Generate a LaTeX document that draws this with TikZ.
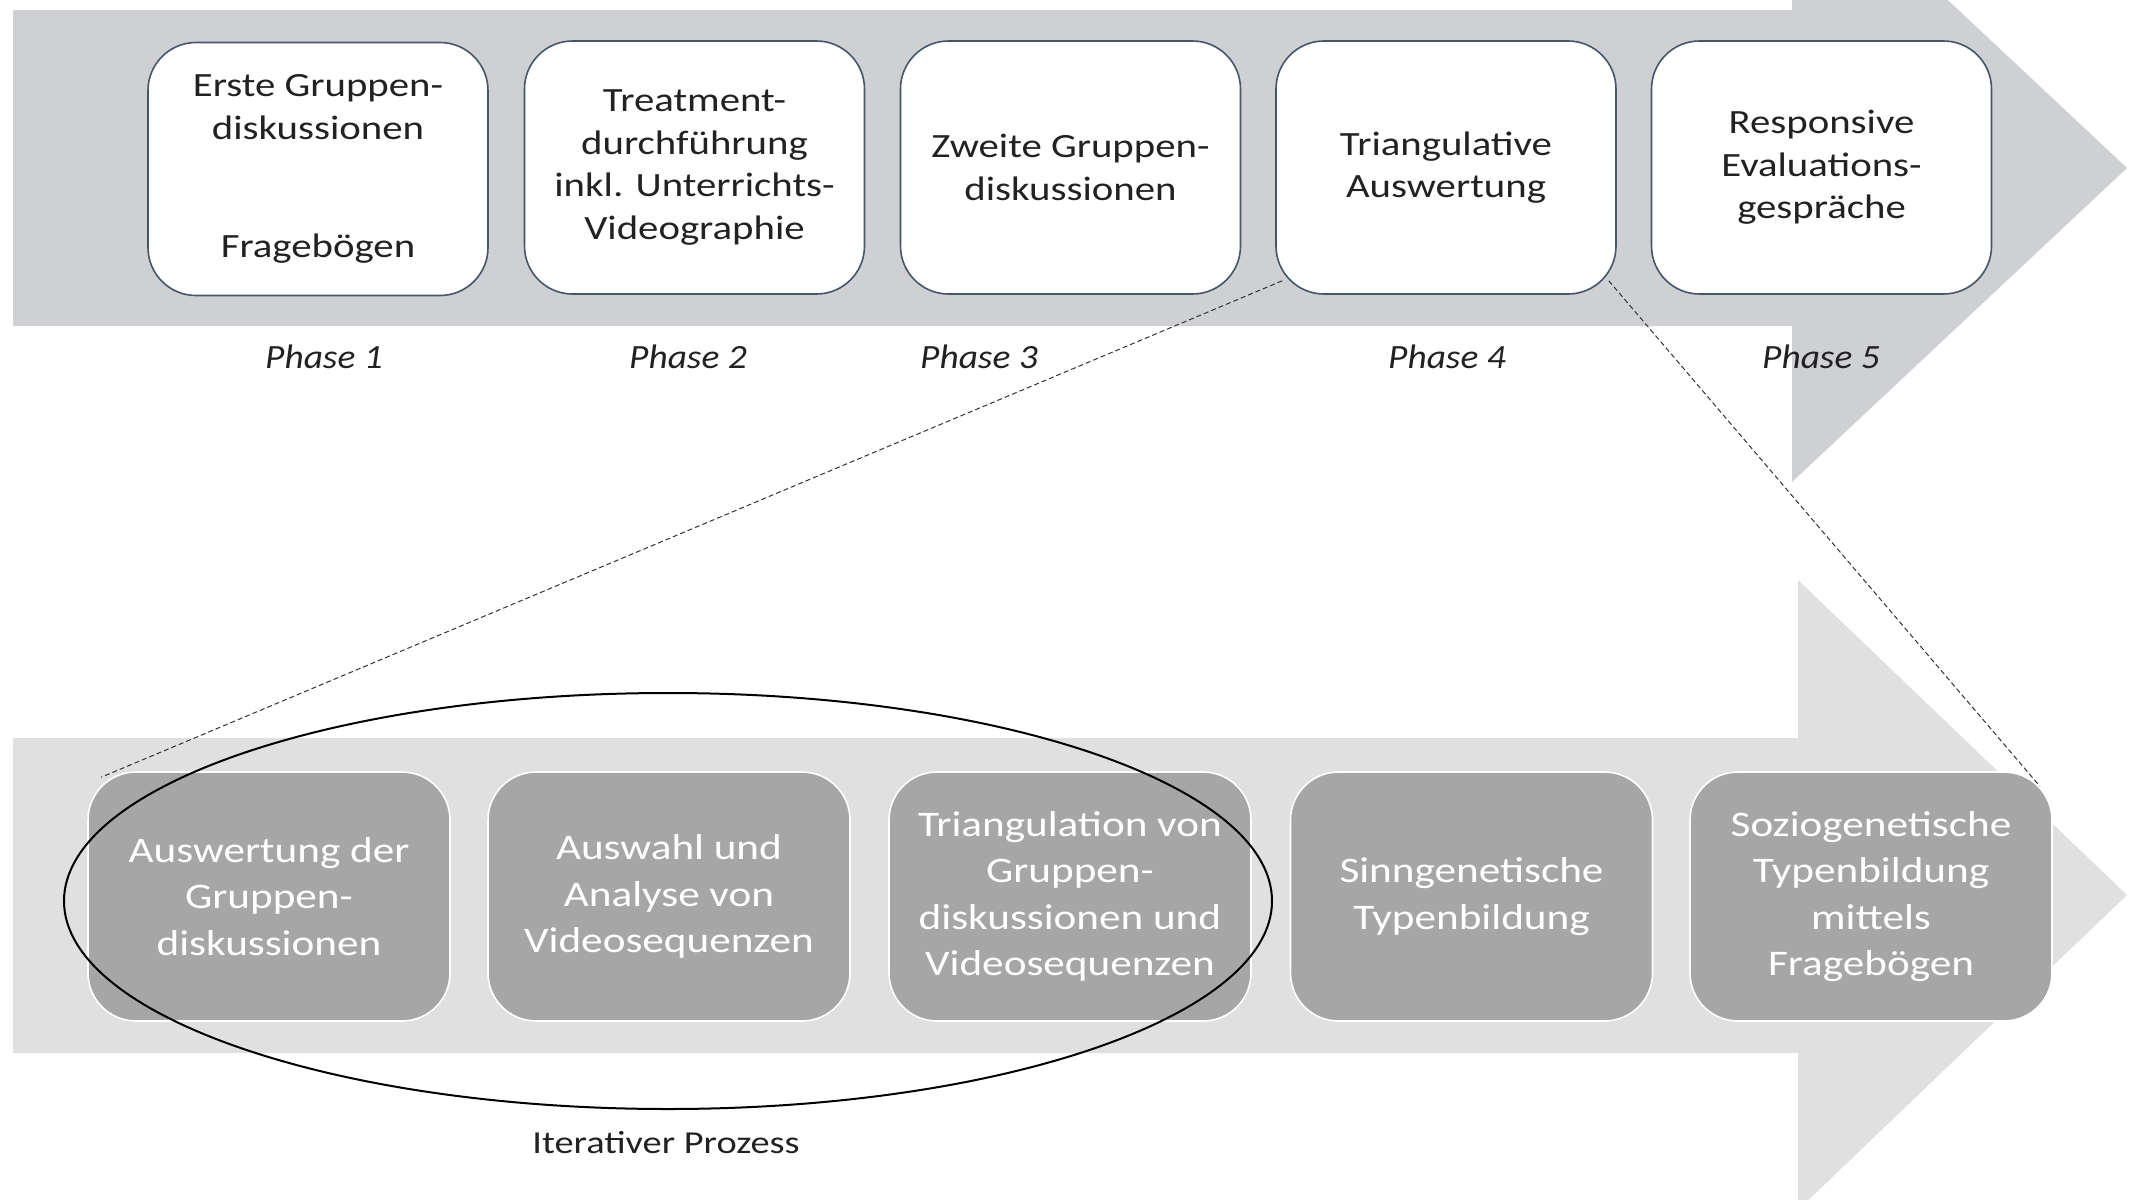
\documentclass[tikz,border=0pt]{standalone}
\usepackage{fontspec}
\setmainfont{Carlito}[FakeStretch=1.2]
\newfontfamily\phasefont{Carlito}[FakeStretch=1.1]
\usetikzlibrary{shapes.geometric}
\definecolor{toparrow}{HTML}{CFD0D4}
\definecolor{botarrow}{HTML}{E0E0E0}
\definecolor{botbox}{HTML}{A6A6A6}
\definecolor{topborder}{HTML}{46566A}
\definecolor{txt}{HTML}{222222}
\tikzset{
  topbox/.style={draw=topborder, line width=0.8pt, fill=white, rounded corners=24pt,
    minimum width=170pt, minimum height=126.5pt, inner sep=0pt, align=center,
    text=txt, font=\fontsize{17pt}{21.2pt}\selectfont},
  botbox/.style={draw=white, line width=0.8pt, fill=botbox, rounded corners=24pt,
    minimum width=181pt, minimum height=124.5pt, inner sep=0pt, align=center,
    text=white, font=\fontsize{18pt}{23.2pt}\selectfont},
  phaselabel/.style={anchor=base, text=txt, font=\phasefont\fontsize{17pt}{20pt}\selectfont\itshape},
  zoomline/.style={draw=black!80, line width=0.5pt, dash pattern=on 2.5pt off 1.5pt},
  iterellipse/.style={draw=black, line width=1pt, ellipse, inner sep=0pt,
    minimum width=604pt, minimum height=208pt},
}
\begin{document}
\begin{tikzpicture}[x=0.5pt,y=-0.5pt]
\path[use as bounding box] (0,0) rectangle (2144,1200);
\clip (0,0) rectangle (2144,1200);
% arrows
\fill[toparrow] (13,10) -- (1792,10) -- (1792,-146) -- (2127,168) -- (1792,482) -- (1792,326) -- (13,326) -- cycle;
\fill[botarrow] (13,738) -- (1798,738) -- (1798,580) -- (2127,895) -- (1798,1210) -- (1798,1053) -- (13,1053) -- cycle;
% top boxes
\node[topbox] (t1) at (318,169) {Erste Gruppen-\\diskussionen\\[38pt]Fragebögen};
\node[topbox] (t2) at (694.5,167.5) {Treatment-\\durchführung\\inkl. Unterrichts-\\Videographie};
\node[topbox] (t3) at (1070.5,167.5) {Zweite Gruppen-\\diskussionen};
\node[topbox] (t4) at (1446,167.5) {Triangulative\\Auswertung};
\node[topbox] (t5) at (1821.5,167.5) {Responsive\\Evaluations-\\gespräche};
% phase labels
\node[phaselabel] (p1) at (324,368) {Phase 1};
\node[phaselabel] (p2) at (688,368) {Phase 2};
\node[phaselabel] (p3) at (979,368) {Phase 3};
\node[phaselabel] (p4) at (1447,368) {Phase 4};
\node[phaselabel] (p5) at (1821,368) {Phase 5};
% bottom boxes
\node[botbox] (b1) at (269,896.5) {Auswertung der\\Gruppen-\\diskussionen};
\node[botbox] (b2) at (669,896.5) {Auswahl und\\Analyse von\\Videosequenzen};
\node[botbox] (b3) at (1070,896.5) {Triangulation von\\Gruppen-\\diskussionen und\\Videosequenzen};
\node[botbox] (b4) at (1471.5,896.5) {Sinngenetische\\Typenbildung};
\node[botbox] (b5) at (1871,896.5) {Soziogenetische\\Typenbildung\\mittels\\Fragebögen};
% zoom lines
\draw[zoomline] ([shift={(7,-14)}]t4.south west) -- ([shift={(14,6)}]b1.north west);
\draw[zoomline] ([shift={(-8,-14)}]t4.south east) -- ([shift={(-13,15)}]b5.north east);
% iterative ellipse
\node[iterellipse] (iter) at (668,901) {};
\node[text=txt, font=\fontsize{16pt}{19pt}\selectfont] (iterlabel) at (666,1143) {Iterativer Prozess};
\end{tikzpicture}
\end{document}
